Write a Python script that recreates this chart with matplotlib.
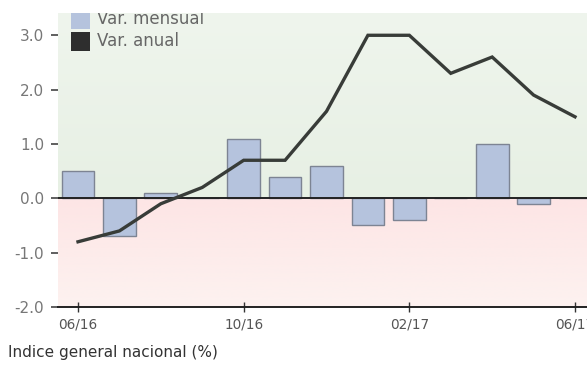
import numpy as np
import matplotlib
matplotlib.use("Agg")
import matplotlib.pyplot as plt
from matplotlib.patches import Rectangle
from matplotlib.colors import LinearSegmentedColormap

# Monthly series, 06/16 .. 06/17
months = ["06/16", "07/16", "08/16", "09/16", "10/16", "11/16", "12/16",
          "01/17", "02/17", "03/17", "04/17", "05/17", "06/17"]
var_mensual = [0.5, -0.7, 0.1, 0.0, 1.1, 0.4, 0.6, -0.5, -0.4, 0.0, 1.0, -0.1, 0.0]
var_anual = [-0.8, -0.6, -0.1, 0.2, 0.7, 0.7, 1.6, 3.0, 3.0, 2.3, 2.6, 1.9, 1.5]
tick_labels = ["06/16", "10/16", "02/17", "06/17"]
y_ticks = [3.0, 2.0, 1.0, 0.0, -1.0, -2.0]

W, H = 587, 379
fig = plt.figure(figsize=(W / 100, H / 100), dpi=100)
AX_L, AX_T, AX_B = 58, 13, 307
AX_W, AX_H = W - AX_L, AX_B - AX_T
ax = fig.add_axes([AX_L / W, 1 - AX_B / H, AX_W / W, AX_H / H])

x = np.arange(len(months))
xmin, xmax = -0.483, 12.29
ymin, ymax = -2.0, 3.41

# Background bands: green above zero, pink below
green = LinearSegmentedColormap.from_list("g", ["#eff5ed", "#e7f0e4"])
pink = LinearSegmentedColormap.from_list("p", ["#fde5e5", "#fdf2f0"])
grad = np.linspace(0, 1, 256).reshape(-1, 1)
ax.imshow(grad, cmap=green, extent=[xmin, xmax, 0, ymax], aspect="auto",
          origin="upper", zorder=0)
ax.imshow(grad, cmap=pink, extent=[xmin, xmax, ymin, 0], aspect="auto",
          origin="upper", zorder=0)

# Monthly bars
ax.bar(x, var_mensual, width=0.79, color="#b5c3dd", edgecolor="#7d8493",
       linewidth=1.0, zorder=2)

# Zero line
ax.axhline(0, color="#222222", linewidth=1.4, zorder=3)

# Annual line
ax.plot(x, var_anual, color="#383c38", linewidth=2.4, solid_joinstyle="miter",
        zorder=4)

ax.set_xlim(xmin, xmax)
ax.set_ylim(ymin, ymax)

for s in ["top", "right", "left"]:
    ax.spines[s].set_visible(False)
ax.spines["bottom"].set_color("#222222")
ax.spines["bottom"].set_linewidth(1.4)
ax.spines["bottom"].set_zorder(5)

tick_pos = [months.index(t) for t in tick_labels]
ax.set_xticks(tick_pos)
ax.set_xticklabels(tick_labels)
ax.tick_params(axis="x", direction="inout", length=7, width=1.0,
               color="#333333", labelsize=9.8, labelcolor="#555555", pad=4)

ax.set_yticks(y_ticks)
ax.set_yticklabels([f"{v:.1f}" for v in y_ticks])
ax.tick_params(axis="y", direction="out", length=5, width=1.2,
               color="#444444", labelsize=11, labelcolor="#777777", pad=5)

# Legend drawn inside the plot area (clipped at the top)
tr = ax.transAxes
entries = [("Var. mensual", "#b5c3dd"), ("Var. anual", "#2e2e2e")]
for i, (label, col) in enumerate(entries):
    top_px = 10 + i * 22
    y0 = 1 - (top_px + 19 - AX_T) / AX_H
    r = Rectangle((13 / AX_W, y0), 19 / AX_W, 19 / AX_H, transform=tr,
                  facecolor=col, edgecolor="none", clip_on=True, zorder=6)
    ax.add_patch(r)
    t = ax.text(39 / AX_W, y0 + 9.5 / AX_H, label, transform=tr, fontsize=12,
                color="#666666", va="center", ha="left", zorder=6)
    t.set_clip_on(True)

fig.text(8 / W, 1 - 353 / H, "Indice general nacional (%)", fontsize=11,
         color="#333333", va="center", ha="left")

fig.savefig("out.png", dpi=100)
